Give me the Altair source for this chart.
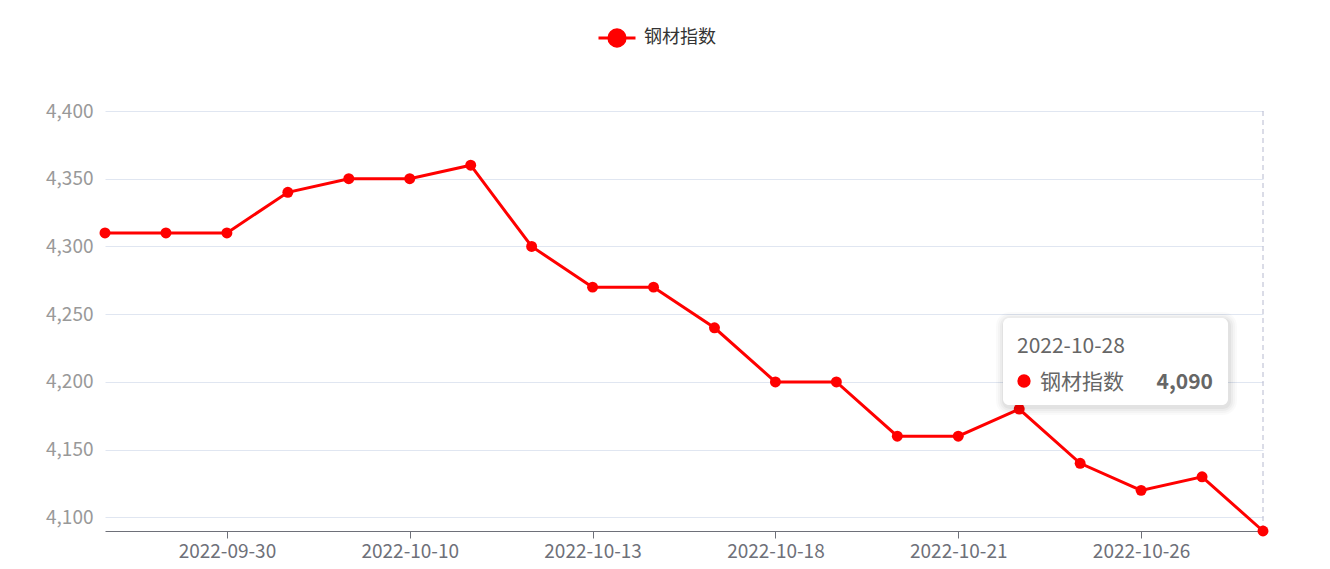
import json
import altair as alt
import pandas as pd

# ---- data ----
dates = ["2022-09-28", "2022-09-29", "2022-09-30", "2022-10-08", "2022-10-09",
         "2022-10-10", "2022-10-11", "2022-10-12", "2022-10-13", "2022-10-14",
         "2022-10-17", "2022-10-18", "2022-10-19", "2022-10-20", "2022-10-21",
         "2022-10-24", "2022-10-25", "2022-10-26", "2022-10-27", "2022-10-28"]
values = [4310, 4310, 4310, 4340, 4350, 4350, 4360, 4300, 4270, 4270,
          4240, 4200, 4200, 4160, 4160, 4180, 4140, 4120, 4130, 4090]
series_name = "钢材指数"
x_label_positions = [2, 5, 8, 11, 14, 17]
y_ticks = [4100, 4150, 4200, 4250, 4300, 4350, 4400]
y_domain = [4090, 4400]

FONT = "Noto Sans CJK SC"
RED = "#FF0000"

df = pd.DataFrame({
    "idx": list(range(len(dates))),
    "date": dates,
    "value": values,
    "series": [series_name] * len(dates),
})
last_idx = len(dates) - 1

x_enc = alt.X(
    "idx:Q",
    scale=alt.Scale(domain=[0, last_idx], nice=False, zero=False),
    axis=alt.Axis(
        values=x_label_positions,
        labelExpr=f"{json.dumps(dates)}[datum.value]",
        title=None, grid=False,
        domainColor="#6E7079", tickColor="#6E7079", tickSize=7,
        labelPadding=4, labelFontSize=19, labelColor="#6E7079", labelFont=FONT,
    ),
)
y_enc = alt.Y(
    "value:Q",
    scale=alt.Scale(domain=y_domain, nice=False, zero=False),
    axis=alt.Axis(
        values=y_ticks, format=",d", title=None, grid=True,
        domain=False, ticks=False, labelPadding=12,
        gridColor="#E0E6F1", gridWidth=1,
        labelFontSize=19, labelColor="#999999", labelFont=FONT,
    ),
)

base = alt.Chart(df)

legend_path = ("M-1,0H1M-0.44,0A0.44,0.44,0,1,0,0.44,0"
               "A0.44,0.44,0,1,0,-0.44,0Z")

line = base.mark_line(color=RED, strokeWidth=3).encode(x=x_enc, y=y_enc)

pointer = base.mark_rule(color="#B6B9CF", strokeDash=[5, 4], strokeWidth=1).encode(
    x=x_enc, y=alt.datum(y_domain[1]), y2=alt.datum(y_domain[0])
).transform_filter(alt.datum.idx == last_idx)

points = base.mark_circle(size=120, opacity=1).encode(
    x=x_enc, y=y_enc,
    color=alt.Color(
        "series:N",
        scale=alt.Scale(range=[RED]),
        legend=alt.Legend(
            title=None, orient="none", legendX=492, legendY=-93,
            symbolType=legend_path, symbolSize=1369,
            symbolStrokeWidth=3, symbolStrokeColor=RED, symbolFillColor=RED,
            symbolOpacity=1, labelOffset=7, padding=0,
            labelFontSize=18, labelColor="#333333", labelFont=FONT,
        ),
    ),
)

last = base.transform_filter(alt.datum.idx == last_idx)

# tooltip box (anchored to the last data point)
box_l, box_r, box_t, box_b = -260, -35, -213, -126
shadows = []
for e, op in [(8, 0.02), (6, 0.025), (4, 0.03), (2, 0.04)]:
    shadows.append(
        last.mark_rect(
            color="#000000", opacity=op, cornerRadius=6 + e,
            xOffset=box_l - e + 1, x2Offset=box_r + e + 1,
            yOffset=box_t - e + 2, y2Offset=box_b + e + 2,
        ).encode(x=x_enc, x2="idx:Q", y=y_enc, y2="value:Q")
    )
box = last.mark_rect(
    color="#FFFFFF", opacity=1, cornerRadius=6,
    xOffset=box_l, x2Offset=box_r, yOffset=box_t, y2Offset=box_b,
).encode(x=x_enc, x2="idx:Q", y=y_enc, y2="value:Q")

tip_title = last.mark_text(
    align="left", baseline="alphabetic", dx=-246, dy=-178,
    fontSize=21, color="#666666", font=FONT,
).encode(x=x_enc, y=y_enc, text="date:N")

tip_dot = last.mark_circle(
    size=177, color=RED, opacity=1, xOffset=-239, yOffset=-150
).encode(x=x_enc, y=y_enc)

tip_name = last.mark_text(
    align="left", baseline="alphabetic", dx=-223, dy=-142,
    fontSize=21, color="#666666", font=FONT,
).encode(x=x_enc, y=y_enc, text="series:N")

tip_value = last.mark_text(
    align="right", baseline="alphabetic", dx=-50, dy=-142,
    fontSize=21, fontWeight="bold", color="#666666", font=FONT,
).encode(x=x_enc, y=y_enc, text=alt.Text("value:Q", format=",d"))

chart = alt.layer(
    line, pointer, points, *shadows, box, tip_title, tip_dot, tip_name, tip_value
).properties(
    width=1158, height=420,
    autosize=alt.AutoSizeParams(type="none"),
    padding={"left": 97, "top": 103, "right": 59, "bottom": 30},
).configure_view(strokeWidth=0)

chart.save("out.html", embed_options={"renderer": "svg", "actions": False})
